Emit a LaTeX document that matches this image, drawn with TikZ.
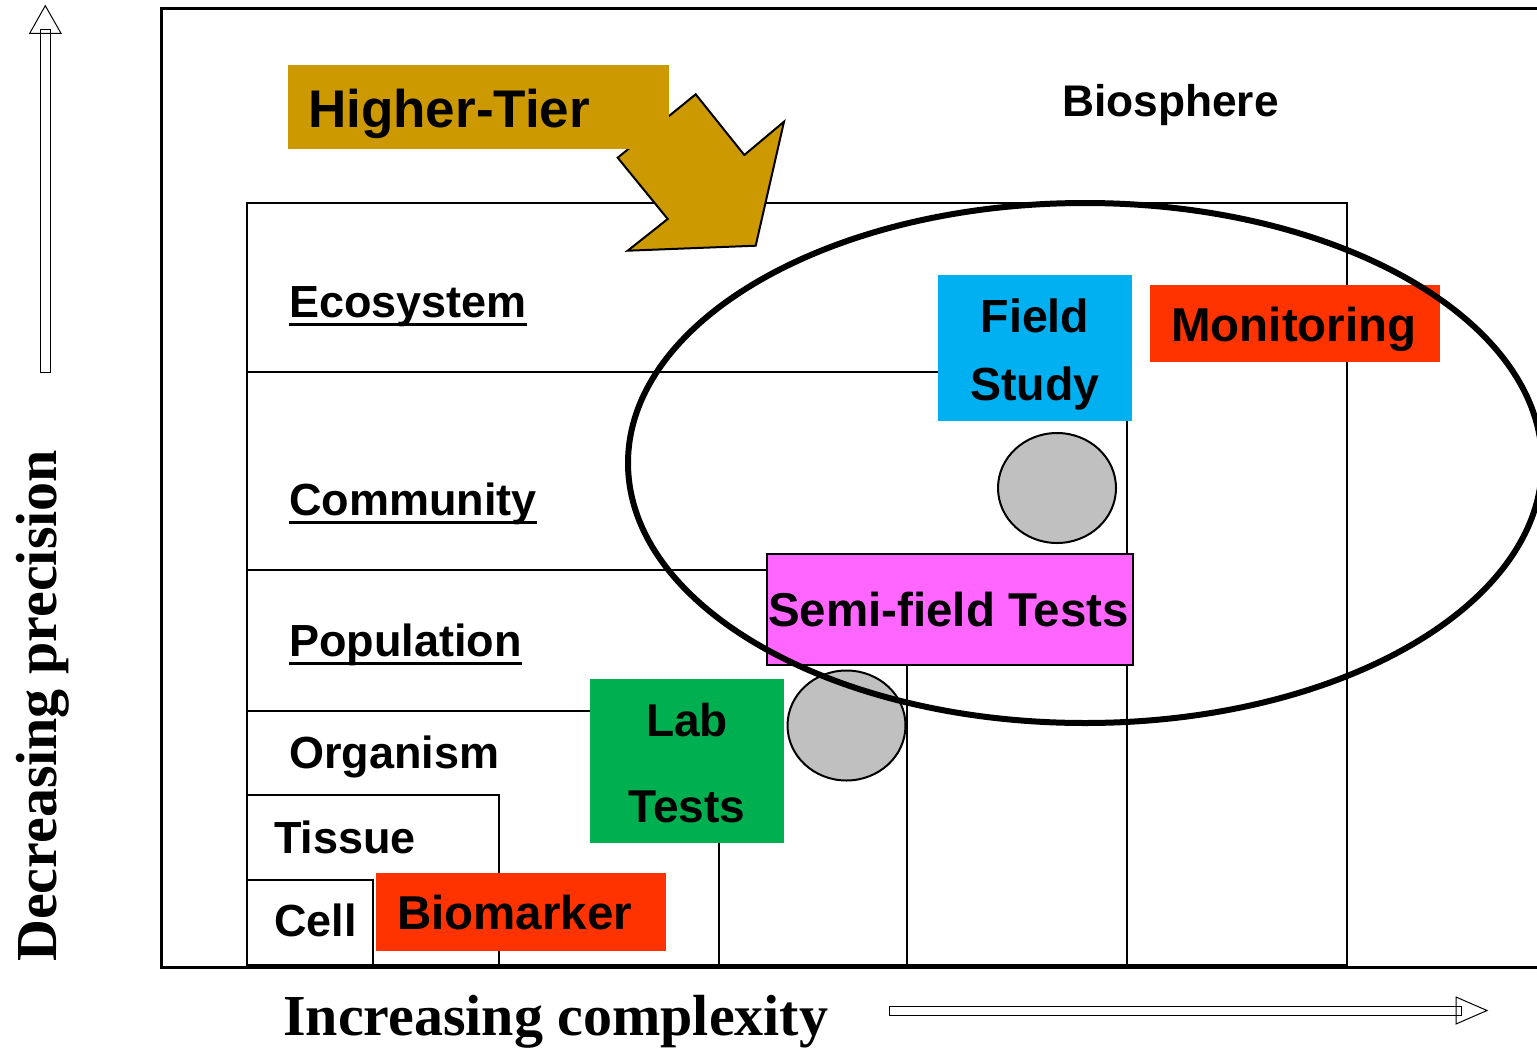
\documentclass[tikz,border=0pt]{standalone}
\usepackage{fontspec}
\setmainfont{Liberation Serif}
\setsansfont{Liberation Sans}
\definecolor{gold}{HTML}{CC9900}
\definecolor{fieldblue}{HTML}{00B0F0}
\definecolor{redorange}{HTML}{FF3300}
\definecolor{pinkbox}{HTML}{FF66FF}
\definecolor{labgreen}{HTML}{00B050}
\definecolor{circgray}{HTML}{C0C0C0}
\tikzset{
  lbl/.style={font=\sffamily\bfseries\fontsize{45}{50}\selectfont, inner sep=0pt, anchor=base west},
  lblbig/.style={lbl, font=\sffamily\bfseries\fontsize{47.5}{50}\selectfont},
  lblc/.style={lbl, anchor=base},
  axislbl/.style={font=\rmfamily\bfseries\fontsize{58}{62}\selectfont, inner sep=0pt, anchor=base west},
  levelbox/.style={draw=black, line width=2pt},
  colbox/.style={fill=#1, draw=none, inner sep=0pt},
  grayblob/.style={ellipse, fill=circgray, draw=black, line width=2pt, inner sep=0pt, minimum width=118pt, minimum height=110pt},
  uline/.style={line width=3pt},
  hollowarrow/.style={draw=black, line width=1pt}
}
\usetikzlibrary{shapes.geometric}
\begin{document}
\begin{tikzpicture}[x=1pt,y=-1pt]
\useasboundingbox (0,0) rectangle (1537,1047);
\clip (0,0) rectangle (1537,1047);
% axis arrows
\draw[hollowarrow] (45.3,5.7) -- (61,33.3) -- (29.7,33.3) -- cycle;
\draw[hollowarrow] (40,29) rectangle (50.3,372);
\draw[hollowarrow] (1456,997) -- (1487,1010.5) -- (1456,1024) -- cycle;
\draw[hollowarrow] (889.5,1006) rectangle (1461,1015);
% outer box
\draw[line width=3pt] (1600,8) -- (161,8) -- (161,967) -- (1600,967);
% nested level boxes
\draw[levelbox] (247,203) rectangle (1347,965);
\draw[levelbox] (247,372) rectangle (1127,965);
\draw[levelbox] (247,570) rectangle (907,965);
\draw[levelbox] (247,711) rectangle (719,965);
\draw[levelbox] (247,795) rectangle (499,965);
\draw[levelbox] (247,880) rectangle (373,965);
% higher-tier arrow
\draw[fill=gold, line width=2pt, line join=miter]
  (695.7,94.3) -- (744.3,155) -- (784,121.7) -- (755.7,245.7) -- (627.7,250.7)
  -- (667.7,219) -- (617.7,157.7) -- cycle;
% coloured boxes
\node[colbox=gold, minimum width=381pt, minimum height=84pt, anchor=north west] (htbox) at (288,65) {};
\node[colbox=fieldblue, minimum width=194pt, minimum height=146pt, anchor=north west] (fieldbox) at (938,275) {};
\node[colbox=redorange, minimum width=290pt, minimum height=77pt, anchor=north west] (monbox) at (1150,285) {};
\node[colbox=labgreen, minimum width=194pt, minimum height=164pt, anchor=north west] (labbox) at (590,679) {};
\node[colbox=redorange, minimum width=290pt, minimum height=78pt, anchor=north west] (biobox) at (376,873) {};
\node[fill=pinkbox, draw=black, line width=2.5pt, inner sep=0pt, minimum width=366pt, minimum height=111pt, anchor=north west] (semibox) at (765.5,552.5) {};
% gray circles
\node[grayblob] (blobup) at (1057,488) {};
\node[grayblob] (bloblow) at (846.5,725.5) {};
% big ellipse
\node[ellipse, draw=black, line width=6pt, inner sep=0pt, minimum width=914pt, minimum height=520pt] (scope) at (1085,463) {};
% texts
\node[lbl, font=\sffamily\bfseries\fontsize{53}{56}\selectfont] (higher) at (308,127) {Higher-Tier};
\node[lbl, font=\sffamily\bfseries\fontsize{44.3}{48}\selectfont] (bios) at (1062,116) {Biosphere};
\node[lbl] (eco) at (289,317) {Ecosystem};
\node[lbl] (comm) at (289,515) {Community};
\node[lbl] (pop) at (289,656) {Population};
\node[lbl] (org) at (289,768.5) {Organism};
\node[lbl] (tis) at (274,853) {Tissue};
\node[lbl] (cell) at (274,936.5) {Cell};
\draw[uline] ([yshift=-7.5pt]eco.base west) -- ([yshift=-7.5pt]eco.base east);
\draw[uline] ([yshift=-7.5pt]comm.base west) -- ([yshift=-7.5pt]comm.base east);
\draw[uline] ([yshift=-7.5pt]pop.base west) -- ([yshift=-7.5pt]pop.base east);
\node[lblc, font=\sffamily\bfseries\fontsize{46.5}{50}\selectfont] (field) at (1035,332.5) {Field};
\node[lblc, font=\sffamily\bfseries\fontsize{46.5}{50}\selectfont] (study) at (1035,400.5) {Study};
\node[lblbig] (mon) at (1171,341.5) {Monitoring};
\node[lblbig, anchor=base] (semi) at (948.5,626) {Semi-field Tests};
\node[lblc, font=\sffamily\bfseries\fontsize{46}{50}\selectfont] (lab) at (687,736) {Lab};
\node[lblc, font=\sffamily\bfseries\fontsize{46}{50}\selectfont] (tests) at (687,822) {Tests};
\node[lblbig] (bio) at (397,929) {Biomarker};
% axis labels
\node[axislbl] (incr) at (283,1035) {Increasing complexity};
\node[axislbl, rotate=90] (decr) at (56,962) {Decreasing precision};
\end{tikzpicture}
\end{document}
